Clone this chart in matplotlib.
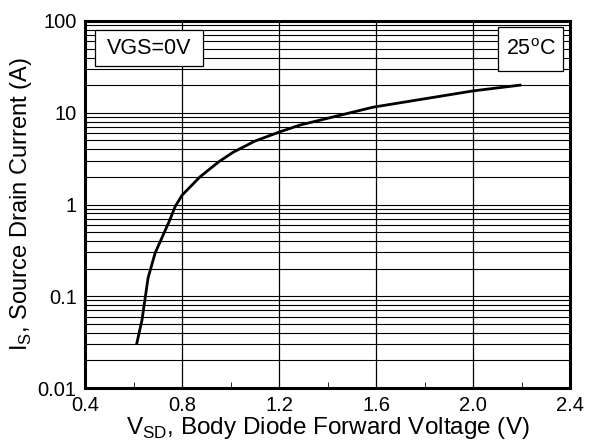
import numpy as np
import matplotlib.pyplot as plt
import matplotlib.ticker as mticker
from matplotlib.patches import Rectangle

plt.rcParams['font.family'] = ['Liberation Sans', 'DejaVu Sans']

# body diode forward characteristic
vsd = [0.614, 0.635, 0.66, 0.689, 0.75, 0.771, 0.80, 0.874, 0.95, 1.01,
       1.10, 1.204, 1.287, 1.588, 2.0, 2.194]
i_s = [0.031, 0.055, 0.158, 0.295, 0.68, 0.94, 1.26, 2.0, 2.9, 3.7,
       4.9, 6.2, 7.35, 11.5, 17.3, 20.0]

x_ticks = [0.4, 0.8, 1.2, 1.6, 2.0, 2.4]
x_ticklabels = ['0.4', '0.8', '1.2', '1.6', '2.0', '2.4']
y_ticks = [0.01, 0.1, 1, 10, 100]
y_ticklabels = ['0.01', '0.1', '1', '10', '100']

fig = plt.figure(figsize=(5.89, 4.42), dpi=100)
ax = fig.add_axes([85 / 589, 1 - 388 / 442, (570 - 85) / 589, (388 - 21) / 442])

ax.plot(vsd, i_s, color='black', lw=2)

ax.set_yscale('log')
ax.set_xlim(0.4, 2.4)
ax.set_ylim(0.01, 100)

ax.set_xticks(x_ticks)
ax.set_xticklabels(x_ticklabels)
ax.xaxis.set_minor_locator(mticker.MultipleLocator(0.2))
ax.set_yticks(y_ticks)
ax.set_yticklabels(y_ticklabels)
ax.yaxis.set_minor_locator(mticker.LogLocator(base=10, subs=np.arange(2, 10)))
ax.yaxis.set_minor_formatter(mticker.NullFormatter())

ax.grid(True, which='major', axis='x', color='black', lw=0.9)
ax.grid(True, which='both', axis='y', color='black', lw=0.8)
ax.tick_params(which='both', direction='in', labelsize=14.5, length=4,
               color='black')
ax.tick_params(axis='y', which='both', length=0, pad=6)
ax.tick_params(axis='x', which='major', length=0, pad=6)

for s in ax.spines.values():
    s.set_linewidth(2.2)

ax.set_xlabel('V$_{\\mathregular{SD}}$, Body Diode Forward Voltage (V)',
              fontsize=17.5, labelpad=0)
ax.set_ylabel('I$_{\\mathregular{S}}$, Source Drain Current (A)',
              fontsize=17, labelpad=3)

# legend-like boxes
ax.add_patch(Rectangle((0.021, 0.877), 0.222, 0.098, transform=ax.transAxes,
                       fc='white', ec='black', lw=0.9, zorder=5))
ax.text(0.132, 0.926, 'VGS=0V', transform=ax.transAxes, fontsize=15.5,
        va='center', ha='center', zorder=6)
ax.add_patch(Rectangle((0.852, 0.864), 0.134, 0.120, transform=ax.transAxes,
                       fc='white', ec='black', lw=0.9, zorder=5))
ax.text(0.919, 0.922, '25$^{\\mathregular{o}}$C', transform=ax.transAxes,
        fontsize=15.5, va='center', ha='center', zorder=6)

fig.savefig('out.png', dpi=100)
